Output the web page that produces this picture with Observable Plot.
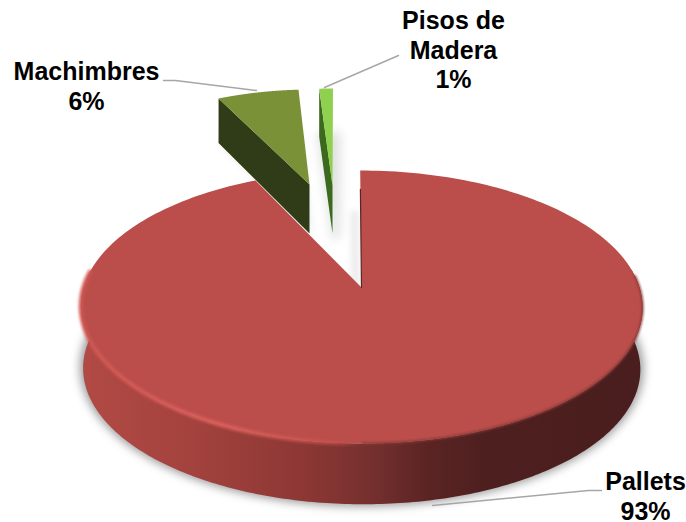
<!DOCTYPE html>
<html>
<head>
<meta charset="utf-8">
<style>html,body{margin:0;padding:0;background:#fff}svg{display:block}</style>
<script src="https://cdn.jsdelivr.net/npm/d3@7"></script>
<script src="https://cdn.jsdelivr.net/npm/@observablehq/plot@0.6"></script>
</head>
<body>
<script>
// Data
const categories = ["Pallets", "Machimbres", "Pisos de\nMadera"];
const shares = [93, 6, 1];

// Drawing frames: how each slice's plane lands on the page (pie-unit -> plot units)
const frames = [
  {cx: 361, cy: 287, rx: 278, sh: -1.5, ky: 133.7, c: 0.143, depth: 62, s: 0.992, taper: 0},
  {cx: 309, cy: 184, rx: 219.6, sh: 2.8, ky: 95, c: 0, depth: 49, s: 1, taper: 0.1},
  {cx: 332, cy: 185, rx: 220, sh: 0.5, ky: 97, c: 0, depth: 48, s: 1, taper: 0}
];
const topFill = ["#bb4e4a", "#7a9138", "#8fd14f"];
const sideFill = ["url(#rim)", "#2f3c17", "#3b6a1f"];
const labelAt = [[645, 482], [86, 72], [453, 21]];
const leaders = [
  [[432, 505], [588, 490], [601, 490]],
  [[163, 80], [175, 80], [256, 90]],
  [[324, 87], [398, 55]]
];

// Slice angles come from the values (clockwise from 12 o'clock)
const total = d3.sum(shares);
const ends = d3.cumsum(shares).map(v => v / total * 360);
const starts = [0, ...ends.slice(0, -1)];

const rad = d => d * Math.PI / 180;
function project(f, deg, r = 1, low = false) {
  const u = Math.sin(rad(deg)) * r, v = Math.cos(rad(deg)) * r;
  const w = 1 + f.c * v;
  const k = low ? f.s : 1;
  return [
    f.cx + k * (f.rx * u + f.sh * v) / w,
    f.cy + (low ? f.depth * (1 - f.taper * v) : 0) - k * f.ky * v / w
  ];
}
const sweep = (a, b, n = 240) => d3.range(n + 1).map(i => a + (b - a) * i / n);
const arc = (f, a, b, low) => sweep(a, b).map(d => project(f, d, 1, low));
const wedge = (i, low) => [project(frames[i], 0, 0, low), ...arc(frames[i], starts[i], ends[i], low), project(frames[i], 0, 0, low)];
const poly = (pts, o) => Plot.line(pts, {x: d => d[0], y: d => d[1], curve: "linear", stroke: "none", ...o});
const moved = (pts, dx, dy) => pts.map(p => [p[0] + dx, p[1] + dy]);

const edge = i => {
  const f = frames[i];
  return [project(f, starts[i]), project(f, 0, 0), project(f, 0, 0, true), project(f, starts[i], 1, true)];
};
const pal = frames[0];
const wall = [...arc(pal, 82, 278), ...arc(pal, 278, 82, true)];
const shadowHull = arc(pal, 75, 285, true);

const defs = () => {
  const s = d3.create("svg:defs");
  const rim = s.append("linearGradient").attr("id", "rim").attr("x1", 0).attr("x2", 1).attr("y1", 0).attr("y2", 0);
  [[0, "#b24a45"], [0.2, "#a3423e"], [0.4, "#8c3734"], [0.52, "#74302e"], [0.62, "#5a2423"], [0.72, "#4e1f1f"], [1, "#4a1e1e"]]
    .forEach(([o, c]) => rim.append("stop").attr("offset", o).attr("stop-color", c));
  const hi = s.append("linearGradient").attr("id", "hi").attr("x1", 0).attr("x2", 1).attr("y1", 0).attr("y2", 0);
  [[0, "#cf5753", 1], [0.5, "#de625e", 1], [0.9, "#c9524e", 0.8], [1, "#bb4e4a", 0]]
    .forEach(([o, c, a]) => hi.append("stop").attr("offset", o).attr("stop-color", c).attr("stop-opacity", a));
  return s.node();
};

const chart = Plot.plot({
  width: 686, height: 522,
  margin: 0,
  x: {domain: [0, 686], range: [0, 686], axis: null},
  y: {domain: [0, 522], range: [0, 522], axis: null},
  style: {background: "#fff", overflow: "hidden"},
  marks: [
    defs,
    // soft shadows
    poly(moved(wedge(1, true), 2, 0), {fill: "#000", fillOpacity: 0.09, imageFilter: "blur(4px)"}),
    poly(moved(wedge(2, true), 3, 0), {fill: "#000", fillOpacity: 0.07, imageFilter: "blur(4px)", strokeWidth: 14, stroke: "#000", strokeOpacity: 0.07}),
    poly(moved(shadowHull, 0, -1), {fill: "#000", fillOpacity: 0.3, imageFilter: "blur(5px)", stroke: "#000", strokeOpacity: 0.3, strokeWidth: 7}),
    Plot.line(moved([project(pal, 0, 0.6), project(pal, 0, 0)], -6, 0), {x: d => d[0], y: d => d[1], stroke: "#000", strokeOpacity: 0.09, strokeWidth: 7, imageFilter: "blur(3px)"}),
    // exploded slices, sides first
    poly(edge(1), {fill: sideFill[1]}),
    poly(wedge(1), {fill: topFill[1]}),
    poly(edge(2), {fill: sideFill[2]}),
    poly(wedge(2), {fill: topFill[2]}),
    // Pallets: wall, top, highlight
    poly(wall, {fill: sideFill[0]}),
    poly(wedge(0), {fill: topFill[0]}),
    Plot.line(arc(pal, 180, 277), {x: d => d[0], y: d => d[1], stroke: "url(#hi)", strokeWidth: 4, imageFilter: "blur(1.5px)"}),
    Plot.line(arc(pal, 85, 180), {x: d => d[0], y: d => d[1], stroke: "#8a3a37", strokeWidth: 2, imageFilter: "blur(1px)"}),
    Plot.line([project(pal, 0, 0.82), project(pal, 0, 0)], {x: d => d[0], y: d => d[1], stroke: "#5a2625", strokeWidth: 1.2}),
    // leaders
    ...leaders.map(l => Plot.line(l, {x: d => d[0], y: d => d[1], curve: "linear", stroke: "#a6a6a6", strokeWidth: 1.4})),
    // labels
    Plot.text(categories.map((c, i) => ({t: `${c}\n${shares[i]}%`, p: labelAt[i]})), {
      x: d => d.p[0], y: d => d.p[1], text: "t",
      fontFamily: "Liberation Sans", fontSize: 25, fontWeight: "bold", fill: "#000",
      lineHeight: 1.17, lineAnchor: "top", textAnchor: "middle", dy: -13
    })
  ]
});
document.body.appendChild(chart);
</script>
</body>
</html>
